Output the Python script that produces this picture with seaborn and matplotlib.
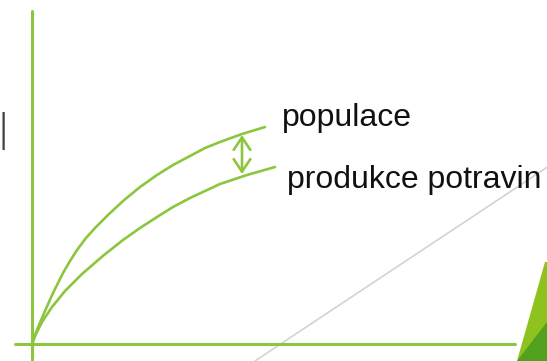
import pandas as pd
import matplotlib.pyplot as plt
import seaborn as sns

# values (origin = where the two axes cross)
populace_x = [0, 3, 7, 13, 21, 31, 38, 45, 54, 63, 76, 91, 108, 125, 141,
              158, 173, 188, 210, 233]
populace_y = [0, 9, 19, 33, 51, 71, 83, 94, 106, 116, 129, 143, 157, 169, 179,
              188, 196, 202, 210, 217]
potraviny_x = [0, 4, 10, 20, 33, 50, 72, 91, 108, 125, 141, 158, 173, 188,
               215, 243]
potraviny_y = [0, 10, 22, 37, 53, 70, 89, 104, 116, 127, 137, 146, 153, 160,
               169, 177]
labels = ["populace", "produkce potravin"]

GREEN = "#8CC63F"

sns.set_theme(style="white")
plt.rcParams['font.family'] = ['Liberation Sans', 'DejaVu Sans']

df = pd.concat([
    pd.DataFrame({"x": populace_x, "y": populace_y, "serie": labels[0]}),
    pd.DataFrame({"x": potraviny_x, "y": potraviny_y, "serie": labels[1]}),
])

fig = plt.figure(figsize=(5.47, 3.61), dpi=100)
ax = fig.add_axes([0, 0, 1, 1])
ax.set_xlim(-32, 515)
ax.set_ylim(-17, 344)
ax.axis("off")

# grey diagonal from the slide background
ax.plot([223, 520], [-17, 180], color="#d3d3d3", lw=1.2, zorder=1)

# slide corner decoration
ax.fill([485, 513, 520, 520], [-17, 82, 82, -17], color="#8DC21F", lw=0, zorder=1)
ax.fill([485, 515, 515], [-17, 22, -17], color="#52A01E", lw=0, zorder=2)

# axes
ax.plot([0, 0], [-17, 333], color=GREEN, lw=2.2, zorder=3)
ax.plot([-17, 483], [0, 0], color=GREEN, lw=2.2, zorder=3)

sns.lineplot(data=df, x="x", y="y", hue="serie", palette=[GREEN, GREEN],
             sort=False, estimator=None, lw=1.9, legend=False, ax=ax, zorder=4)
for line in ax.lines:
    line.set_solid_joinstyle("round")

ax.annotate("", xy=(210, 209), xytext=(210, 170),
            arrowprops=dict(arrowstyle="<->,head_length=0.45,head_width=0.3",
                            color=GREEN, lw=1.9, mutation_scale=20,
                            shrinkA=0, shrinkB=0))

ax.text(250, 218, labels[0], fontsize=23, color="#111111", va="baseline", ha="left")
ax.text(255, 156, labels[1], fontsize=23, color="#111111", va="baseline", ha="left")

# cut-off letter of the slide title
ax.text(-36, 194, "l", fontsize=35, color="#404040", va="baseline", ha="left",
        family="DejaVu Sans", fontweight="light")

fig.savefig("out.png", dpi=100)
